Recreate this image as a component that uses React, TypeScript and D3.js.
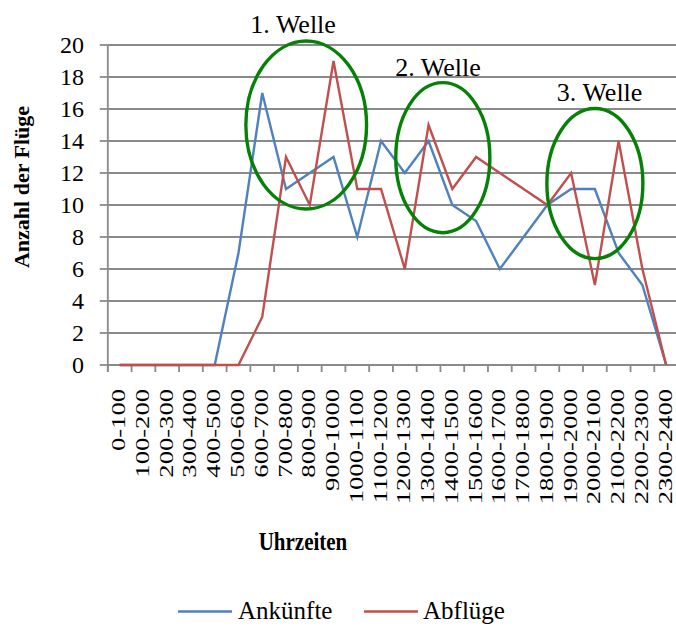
import React from "react";
import * as d3 from "d3";

// Hourly slots (Uhrzeiten)
const categories = [
  "0-100", "100-200", "200-300", "300-400", "400-500", "500-600",
  "600-700", "700-800", "800-900", "900-1000", "1000-1100", "1100-1200",
  "1200-1300", "1300-1400", "1400-1500", "1500-1600", "1600-1700", "1700-1800",
  "1800-1900", "1900-2000", "2000-2100", "2100-2200", "2200-2300", "2300-2400",
];

// Arrivals per slot
const ankuenfte = [0, 0, 0, 0, 0, 7, 17, 11, 12, 13, 8, 14, 12, 14, 10, 9, 6, 8, 10, 11, 11, 7, 5, 0];
// Departures per slot
const abfluege = [0, 0, 0, 0, 0, 0, 3, 13, 10, 19, 11, 11, 6, 15, 11, 13, 12, 11, 10, 12, 5, 14, 6, 0];

const yTicks = [0, 2, 4, 6, 8, 10, 12, 14, 16, 18, 20];

// Wave annotations: centre (category position, value) and radii (categories, value units)
const waveLabels = ["1. Welle", "2. Welle", "3. Welle"];
const waveCx = [7.85, 13.6, 20.0];
const waveCy = [15, 12.96, 11.34];
const waveRx = [2.54, 1.98, 2.02];
const waveRy = [5.25, 4.69, 4.69];
const waveLabelX = [7.3, 13.4, 20.2];
const waveLabelY = [20.75, 18.06, 16.5];

const W = 676;
const H = 626;
const left = 107.8;
const step = 23.76;
const top = 45;
const bottom = 365;

const BLUE = "#4F81BD";
const RED = "#C0504D";
const GRID = "#8a8a8a";
const GREEN = "#058205";
const FONT = '"Liberation Serif"';

export default function App() {
  const x = d3
    .scaleBand<string>()
    .domain(categories)
    .range([left, left + step * categories.length])
    .paddingInner(0)
    .paddingOuter(0);
  const cx = (c: string) => (x(c) as number) + x.bandwidth() / 2;
  const xi = (i: number) => left + step * (i + 0.5);
  const y = d3.scaleLinear().domain([0, 20]).range([bottom, top]);

  const line = d3
    .line<number>()
    .x((_, i) => cx(categories[i]))
    .y((v) => y(v));

  const series = [
    { name: "Ankünfte", values: ankuenfte, color: BLUE },
    { name: "Abflüge", values: abfluege, color: RED },
  ];

  return (
    <svg width={W} height={H} style={{ position: "absolute", left: 0, top: 0, background: "#fff" }}>
      {/* horizontal gridlines */}
      {yTicks.map((t) => (
        <line key={"g" + t} x1={left} x2={W + 10} y1={y(t)} y2={y(t)} stroke={GRID} strokeWidth={1.8} />
      ))}
      {/* y axis */}
      <line x1={left} x2={left} y1={top} y2={bottom + 7} stroke={GRID} strokeWidth={1.8} />
      {yTicks.map((t) => (
        <g key={"yt" + t}>
          <line x1={left - 8} x2={left} y1={y(t)} y2={y(t)} stroke={GRID} strokeWidth={1.8} />
          <text x={84} y={y(t)} dy="0.34em" textAnchor="end" fontSize={24} fontFamily={FONT} fill="#000">
            {t}
          </text>
        </g>
      ))}
      {/* x axis ticks */}
      {categories.map((c) => (
        <line
          key={"xt" + c}
          x1={x(c) as number}
          x2={x(c) as number}
          y1={bottom}
          y2={bottom + 7}
          stroke={GRID}
          strokeWidth={1.8}
        />
      ))}
      {/* x tick labels, vertical */}
      {categories.map((c) => (
        <text
          key={"xl" + c}
          transform={`translate(${cx(c) + 5.5},389) rotate(-90) scale(1.4,1)`}
          textAnchor="end"
          fontSize={19}
          fontFamily={FONT}
          fill="#000"
        >
          {c}
        </text>
      ))}

      {/* series */}
      {series.map((s) => (
        <path
          key={s.name}
          d={line(s.values) || ""}
          fill="none"
          stroke={s.color}
          strokeWidth={2.4}
          strokeLinejoin="miter"
        />
      ))}

      {/* wave annotations */}
      {waveLabels.map((lab, i) => (
        <g key={lab}>
          <ellipse
            cx={xi(waveCx[i])}
            cy={y(waveCy[i])}
            rx={waveRx[i] * step}
            ry={y(0) - y(waveRy[i])}
            fill="none"
            stroke={GREEN}
            strokeWidth={3.4}
          />
          <text
            x={xi(waveLabelX[i])}
            y={y(waveLabelY[i])}
            textAnchor="middle"
            fontSize={26}
            fontFamily={FONT}
            fill="#000"
          >
            {lab}
          </text>
        </g>
      ))}

      {/* axis titles */}
      <text
        transform={`translate(29,187) rotate(-90)`}
        textAnchor="middle"
        fontSize={22}
        fontWeight="bold"
        fontFamily={FONT}
        fill="#000"
      >
        Anzahl der Flüge
      </text>
      <text
        transform="translate(303,550) scale(1,1.2)"
        textAnchor="middle"
        fontSize={21}
        fontWeight="bold"
        fontFamily={FONT}
        fill="#000"
      >
        Uhrzeiten
      </text>

      {/* legend */}
      <line x1={178} x2={232} y1={611.5} y2={611.5} stroke={BLUE} strokeWidth={2.4} />
      <text x={238} y={619} fontSize={25} fontFamily={FONT} fill="#000">
        Ankünfte
      </text>
      <line x1={364} x2={418} y1={611.5} y2={611.5} stroke={RED} strokeWidth={2.4} />
      <text x={423} y={619} fontSize={25} fontFamily={FONT} fill="#000">
        Abflüge
      </text>
    </svg>
  );
}
